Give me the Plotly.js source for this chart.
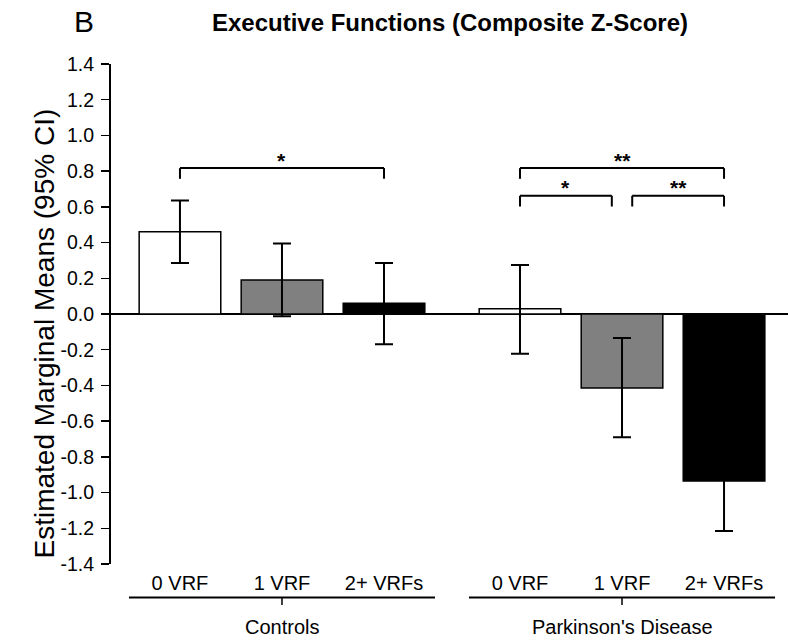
<!DOCTYPE html>
<html><head><meta charset="utf-8">
<script src="https://cdn.plot.ly/plotly-3.0.1.min.js"></script>
<style>html,body{margin:0;padding:0;background:#fff}#chart{width:788px;height:640px}</style>
</head><body><div id="chart"></div>
<script>
// ---- data ----
const categories = ['0 VRF', '1 VRF', '2+ VRFs'];
const groups = ['Controls', "Parkinson's Disease"];
const controlsMean  = [0.46, 0.19, 0.06];
const controlsLower = [0.285, -0.013, -0.17];
const controlsUpper = [0.635, 0.395, 0.285];
const pdMean  = [0.03, -0.415, -0.935];
const pdLower = [-0.222, -0.69, -1.215];
const pdUpper = [0.275, -0.135, -0.655];
const yTickVals = [-1.4, -1.2, -1.0, -0.8, -0.6, -0.4, -0.2, 0, 0.2, 0.4, 0.6, 0.8, 1.0, 1.2, 1.4];
const yTickText = ['-1.4', '-1.2', '-1.0', '-0.8', '-0.6', '-0.4', '-0.2', '0.0', '0.2', '0.4', '0.6', '0.8', '1.0', '1.2', '1.4'];
// significance comparisons: group index, from bar, to bar, bracket tier, label
const sigGroup = [0, 1, 1, 1];
const sigFrom  = [0, 0, 0, 1];
const sigTo    = [2, 2, 1, 2];
const sigTier  = [1, 1, 0, 0];
const sigLabel = ['*', '**', '*', '**'];

// ---- styles ----
const barColors = ['#ffffff', '#808080', '#000000'];
const FONT = 'Liberation Sans, Arial, Helvetica, sans-serif';
const axisIds = ['x', 'x2'];

function barTrace(mean, lower, upper, xa) {
  return {
    type: 'bar', x: categories, y: mean, xaxis: xa, yaxis: 'y', width: 0.8,
    marker: {color: barColors, line: {color: '#000', width: 1.5}},
    error_y: {
      type: 'data', symmetric: false,
      array: upper.map((u, i) => u - mean[i]),
      arrayminus: mean.map((m, i) => m - lower[i]),
      color: '#000', thickness: 2, width: 9
    },
    hoverinfo: 'skip', showlegend: false
  };
}

const traces = [
  barTrace(controlsMean, controlsLower, controlsUpper, 'x'),
  barTrace(pdMean, pdLower, pdUpper, 'x2')
];

const shapes = [];
const annotations = [];
const tierY = [0.662, 0.817];
const legDrop = 0.06;
const lineStyle = {color: '#000', width: 2};

for (let i = 0; i < sigLabel.length; i++) {
  const xa = axisIds[sigGroup[i]];
  // inset ends that touch another bracket on the same tier
  let x0 = sigFrom[i], x1 = sigTo[i];
  for (let j = 0; j < sigLabel.length; j++) {
    if (j === i || sigGroup[j] !== sigGroup[i] || sigTier[j] !== sigTier[i]) continue;
    if (sigTo[j] === sigFrom[i]) x0 += 0.1;
    if (sigFrom[j] === sigTo[i]) x1 -= 0.1;
  }
  const yTop = tierY[sigTier[i]];
  const yLeg = yTop - legDrop;
  shapes.push({type: 'line', xref: xa, yref: 'y', x0: x0, x1: x1, y0: yTop, y1: yTop, line: lineStyle});
  shapes.push({type: 'line', xref: xa, yref: 'y', x0: x0, x1: x0, y0: yTop, y1: yLeg, line: lineStyle});
  shapes.push({type: 'line', xref: xa, yref: 'y', x0: x1, x1: x1, y0: yTop, y1: yLeg, line: lineStyle});
  annotations.push({
    xref: xa, yref: 'y', x: (x0 + x1) / 2, y: yTop + 0.045,
    text: '<b>' + sigLabel[i] + '</b>', showarrow: false,
    font: {family: FONT, size: 21, color: '#000'}, yanchor: 'middle'
  });
}

// group axis lines & labels
for (let g = 0; g < groups.length; g++) {
  const xa = axisIds[g];
  shapes.push({type: 'line', xref: xa, yref: 'paper', x0: -0.5, x1: categories.length - 0.5, y0: -0.067, y1: -0.067, line: {color: '#000', width: 2}});
  shapes.push({type: 'line', xref: xa, yref: 'paper', x0: (categories.length - 1) / 2, x1: (categories.length - 1) / 2, y0: -0.067, y1: -0.082, line: {color: '#000', width: 1.5}});
  annotations.push({
    xref: xa, yref: 'paper', x: (categories.length - 1) / 2, y: -0.125,
    text: groups[g], showarrow: false, yanchor: 'middle',
    font: {family: FONT, size: 20, color: '#000'}
  });
}

// panel letter and y title
annotations.push({xref: 'paper', yref: 'paper', x: -0.04, y: 1.085, text: 'B', showarrow: false,
  xanchor: 'center', yanchor: 'middle', font: {family: FONT, size: 30, color: '#000'}});
annotations.push({xref: 'paper', yref: 'paper', x: -0.0975, y: 0.461, text: 'Estimated Marginal Means (95% CI)',
  showarrow: false, textangle: -90, xanchor: 'center', yanchor: 'middle',
  font: {family: FONT, size: 28, color: '#000'}});

const xCommon = {
  type: 'category', showline: false, ticks: '', showgrid: false, zeroline: false,
  tickfont: {family: FONT, size: 20, color: '#000'}, ticklabelstandoff: 5, fixedrange: true
};

const layout = {
  width: 788, height: 640,
  margin: {l: 111, r: 0, t: 64, b: 76, pad: 0},
  paper_bgcolor: '#fff', plot_bgcolor: '#fff',
  font: {family: FONT, color: '#000'},
  showlegend: false,
  title: {
    text: '<b>Executive Functions (Composite Z-Score)</b>',
    font: {family: FONT, size: 24, color: '#000'},
    xref: 'container', yref: 'container', x: 450 / 788, y: 1 - 23 / 640,
    xanchor: 'center', yanchor: 'middle'
  },
  xaxis: Object.assign({}, xCommon, {domain: [0, 0.4786], range: [-0.676, 2.5], anchor: 'y'}),
  xaxis2: Object.assign({}, xCommon, {domain: [0.4786, 1], range: [-0.833, 2.627], anchor: 'y'}),
  yaxis: {
    range: [-1.4, 1.4], tickmode: 'array', tickvals: yTickVals, ticktext: yTickText,
    showline: true, linecolor: '#000', linewidth: 2,
    ticks: 'outside', ticklen: 8, tickwidth: 1.5, tickcolor: '#000',
    showgrid: false, zeroline: true, zerolinecolor: '#000', zerolinewidth: 1.5,
    tickfont: {family: FONT, size: 19.5, color: '#000'}, ticklabelstandoff: 3,
    fixedrange: true
  },
  bargap: 0.2,
  shapes: shapes,
  annotations: annotations
};

Plotly.newPlot('chart', traces, layout, {displayModeBar: false, staticPlot: true});
</script>
</body></html>
